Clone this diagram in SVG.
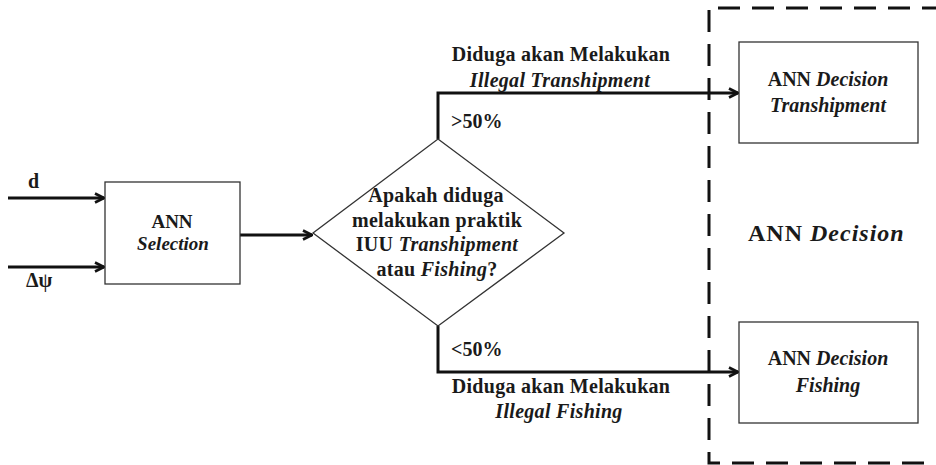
<svg xmlns="http://www.w3.org/2000/svg" width="936" height="465" viewBox="0 0 936 465">
  <defs>
    <marker id="arrow" viewBox="0 0 12 12" refX="11" refY="6" markerWidth="12" markerHeight="12" markerUnits="userSpaceOnUse" orient="auto">
      <path d="M2,1.5 L11,6 L2,10.5" fill="none" stroke="#111" stroke-width="2.6" stroke-linejoin="miter"/>
    </marker>
  </defs>
  <style>
    text { font-family: "Liberation Serif", "Times New Roman", serif; font-weight: bold; fill: #1a1a1a; }
    .c { text-anchor: middle; }
    .it { font-style: italic; }
    .box { fill: #fff; stroke: #333; stroke-width: 1.3; }
    .wire { fill: none; stroke: #111; stroke-width: 3; }
    .dash { fill: none; stroke: #111; stroke-width: 3; stroke-dasharray: 22 12; }
  </style>
  <rect width="936" height="465" fill="#fff"/>

  <!-- decision region (dashed frame, open on the right) -->
  <g id="decision-region">
    <path class="dash" d="M718,8 L936,8"/>
    <path class="dash" d="M709,10 L709,463 L936,463"/>
    <text x="748" y="241" font-size="24" letter-spacing="1">ANN <tspan class="it">Decision</tspan></text>
  </g>

  <!-- connectors -->
  <g id="connectors">
    <line class="wire" x1="8" y1="198" x2="104" y2="198" marker-end="url(#arrow)"/>
    <line class="wire" x1="8" y1="267" x2="104" y2="267" marker-end="url(#arrow)"/>
    <line class="wire" x1="240" y1="235" x2="312" y2="235" marker-end="url(#arrow)"/>
    <polyline class="wire" points="438,139 438,93 738,93" marker-end="url(#arrow)"/>
    <polyline class="wire" points="438,326 438,372 738,372" marker-end="url(#arrow)"/>
    <text x="28" y="188" font-size="20">d</text>
    <text x="26" y="287" font-size="20">Δψ</text>
    <text x="451" y="128" font-size="20">&gt;50%</text>
    <text x="451" y="356" font-size="20">&lt;50%</text>
    <text class="c" x="561" y="61" font-size="20" letter-spacing="0.3">Diduga akan Melakukan</text>
    <text class="c it" x="560" y="87" font-size="20" letter-spacing="0.3">Illegal Transhipment</text>
    <text class="c" x="561" y="393" font-size="20" letter-spacing="0.3">Diduga akan Melakukan</text>
    <text class="c it" x="559" y="418" font-size="20" letter-spacing="0.3">Illegal Fishing</text>
  </g>

  <!-- ANN Selection -->
  <g id="ann-selection">
    <rect class="box" x="105" y="182" width="135" height="102"/>
    <text class="c" x="172" y="228" font-size="19">ANN</text>
    <text class="c it" x="173" y="250" font-size="19">Selection</text>
  </g>

  <!-- decision diamond -->
  <g id="question">
    <polygon class="box" points="438,139 564,233 438,326 313,233"/>
    <text class="c" x="436" y="202" font-size="20" letter-spacing="0.3">Apakah diduga</text>
    <text class="c" x="437" y="227" font-size="20" letter-spacing="0.3">melakukan praktik</text>
    <text class="c" x="437" y="251" font-size="20" letter-spacing="0.3">IUU <tspan class="it">Transhipment</tspan></text>
    <text class="c" x="437" y="276" font-size="20" letter-spacing="0.3">atau <tspan class="it">Fishing</tspan>?</text>
  </g>

  <!-- ANN Decision Transhipment -->
  <g id="ann-decision-transhipment">
    <rect class="box" x="739" y="42" width="179" height="101"/>
    <text class="c" x="828" y="86" font-size="20">ANN <tspan class="it">Decision</tspan></text>
    <text class="c it" x="828" y="112" font-size="20">Transhipment</text>
  </g>

  <!-- ANN Decision Fishing -->
  <g id="ann-decision-fishing">
    <rect class="box" x="739" y="322" width="179" height="101"/>
    <text class="c" x="828" y="365" font-size="20">ANN <tspan class="it">Decision</tspan></text>
    <text class="c it" x="828" y="392" font-size="20">Fishing</text>
  </g>
</svg>
